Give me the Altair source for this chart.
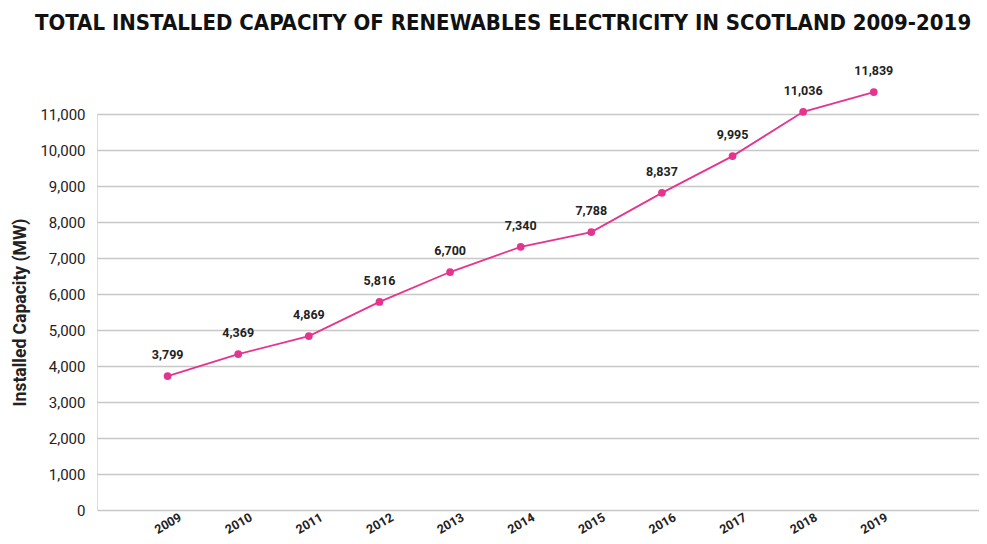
import altair as alt
import pandas as pd

years = [2009, 2010, 2011, 2012, 2013, 2014, 2015, 2016, 2017, 2018, 2019]
# plotted positions
capacity = [3720, 4330, 4830, 5780, 6610, 7310, 7720, 8810, 9830, 11060, 11610]
# printed data labels
labels = ["3,799", "4,369", "4,869", "5,816", "6,700", "7,340", "7,788", "8,837", "9,995", "11,036", "11,839"]
y_ticks = [0, 1000, 2000, 3000, 4000, 5000, 6000, 7000, 8000, 9000, 10000, 11000]

df = pd.DataFrame({"year": years, "capacity": capacity, "label": labels})

PINK = "#e5348f"
FONT = "Roboto"

x = alt.X("year:Q",
          scale=alt.Scale(domain=[2008.0, 2020.49], nice=False, zero=False),
          axis=alt.Axis(values=years, format="d", title=None, grid=False, domain=False, ticks=False,
                        labelAngle=330, labelAlign="center", labelBaseline="middle", labelPadding=13,
                        labelFont=FONT, labelFontSize=12.5, labelFontWeight="bold", labelColor="#222"))
y = alt.Y("capacity:Q",
          scale=alt.Scale(domain=[0, 11000], nice=False),
          axis=alt.Axis(values=y_ticks, format=",d", title="Installed Capacity (MW)",
                        domain=False, ticks=False, labelPadding=12,
                        labelFont=FONT, labelFontSize=15, labelColor="#222",
                        gridColor="#c8c8c8", gridWidth=1.5,
                        titleFont=FONT, titleFontSize=17.5, titleFontWeight="bold", titleColor="#222",
                        titleX=-77, titleY=198, titleAngle=270, titleAlign="center", titleBaseline="middle"))

base = alt.Chart(df)
line = base.mark_line(color=PINK, strokeWidth=1.8).encode(x=x, y=y)
pts = base.mark_circle(color=PINK, size=60, opacity=1).encode(x=x, y=y)
txt = base.mark_text(dy=-21, font=FONT, fontSize=12.5, fontWeight="bold", color="#222").encode(
    x=x, y=y, text="label:N")

chart = alt.layer(line, pts, txt).properties(
    width=882, height=396,
    autosize=alt.AutoSizeParams(type="none"),
    padding={"left": 89, "top": 106, "right": 0, "bottom": 26},
    title=alt.TitleParams("TOTAL INSTALLED CAPACITY OF RENEWABLES ELECTRICITY IN SCOTLAND 2009-2019",
                          anchor="start", frame="group", dx=-62, offset=30,
                          font="Liberation Sans Narrow, DejaVu Sans Condensed, sans-serif",
                          fontSize=22, fontWeight="bold", color="#111"),
).configure_view(stroke=None).configure(background="white")

chart.save("out.html", embed_options={"renderer": "svg", "actions": False})
